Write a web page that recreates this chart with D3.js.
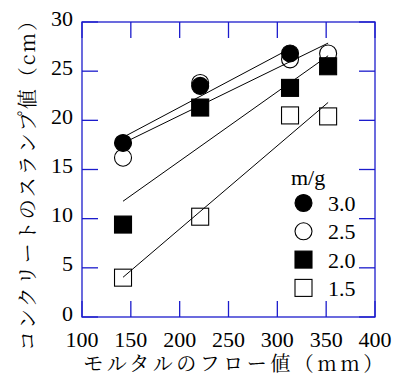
<!DOCTYPE html>
<html>
<head>
<meta charset="utf-8">
<script src="https://cdn.jsdelivr.net/npm/d3@7"></script>
<style>
body { margin: 0; background: #fff; }
svg { display: block; }
</style>
</head>
<body>
<svg id="chart"></svg>
<script>
// flow values of mortar (mm)
var flow = [142, 221, 313, 352];
// slump of concrete (cm), one list per m/g
var slump30 = [17.7, 23.5, 26.8];
var slump25 = [16.2, 23.8, 26.2, 26.8];
var slump20 = [9.4, 21.3, 23.3, 25.5];
var slump15 = [4.0, 10.2, 20.5, 20.4];
var xTicks = [100, 150, 200, 250, 300, 350, 400];
var yTicks = [0, 5, 10, 15, 20, 25, 30];
var legendLabels = ["3.0", "2.5", "2.0", "1.5"];

var width = 394, height = 376;
var plotLeft = 82, plotRight = 375, plotTop = 22, plotBottom = 317;
var axisColor = "#1c1ccc";
var numFont = "'Liberation Serif'";
var jpFont = "'Noto Serif CJK JP', 'Noto Sans CJK JP'";

var svg = d3.select("#chart").attr("width", width).attr("height", height);

var x = d3.scaleLinear().domain([100, 400]).range([plotLeft, plotRight]);
var y = d3.scaleLinear().domain([0, 30]).range([plotBottom, plotTop]);

// series, drawn in this order so overlaps match
var series = [
	{ name: "1.5", ys: slump15, shape: "square", fill: false },
	{ name: "2.5", ys: slump25, shape: "circle", fill: false },
	{ name: "2.0", ys: slump20, shape: "square", fill: true },
	{ name: "3.0", ys: slump30, shape: "circle", fill: true }
];

// least squares fit over each series
function fit(xs, ys) {
	var mx = d3.mean(xs), my = d3.mean(ys);
	var sxy = d3.sum(xs, function(v, i){ return (v - mx) * (ys[i] - my); });
	var sxx = d3.sum(xs, function(v){ return (v - mx) * (v - mx); });
	var b = sxy / sxx;
	return function(v){ return my + b * (v - mx); };
}

series.forEach(function(s){
	var xs = flow.slice(0, s.ys.length);
	var f = fit(xs, s.ys);
	var x0 = d3.min(xs), x1 = d3.max(xs);
	svg.append("line")
		.attr("x1", x(x0)).attr("y1", y(f(x0)))
		.attr("x2", x(x1)).attr("y2", y(f(x1)))
		.attr("stroke", "#000")
		.attr("stroke-width", 1);
});

function marker(g, shape, filled, cx, cy, size) {
	if (shape == "circle") {
		g.append("circle")
			.attr("cx", cx).attr("cy", cy).attr("r", size / 2 - 0.5)
			.attr("fill", filled ? "#000" : "none")
			.attr("stroke", "#000").attr("stroke-width", 1.1);
	} else {
		g.append("rect")
			.attr("x", cx - size / 2 + 0.5).attr("y", cy - size / 2 + 0.5)
			.attr("width", size - 1).attr("height", size - 1)
			.attr("fill", filled ? "#000" : "none")
			.attr("stroke", "#000").attr("stroke-width", 1.1);
	}
}

var pts = svg.append("g");
series.forEach(function(s){
	s.ys.forEach(function(v, i){
		marker(pts, s.shape, s.fill, x(flow[i]), y(v), 18);
	});
});

// frame and inward ticks
var frame = svg.append("g").attr("stroke", axisColor).attr("stroke-width", 1.3).attr("fill", "none");
frame.append("rect").attr("x", plotLeft).attr("y", plotTop).attr("width", plotRight - plotLeft).attr("height", plotBottom - plotTop);
var tlen = 16;
xTicks.forEach(function(t){
	frame.append("line").attr("x1", x(t)).attr("x2", x(t)).attr("y1", plotBottom).attr("y2", plotBottom - tlen);
	frame.append("line").attr("x1", x(t)).attr("x2", x(t)).attr("y1", plotTop).attr("y2", plotTop + tlen);
});
yTicks.forEach(function(t){
	frame.append("line").attr("x1", plotLeft).attr("x2", plotLeft + tlen).attr("y1", y(t)).attr("y2", y(t));
	frame.append("line").attr("x1", plotRight).attr("x2", plotRight - tlen).attr("y1", y(t)).attr("y2", y(t));
});

function numText(sel) {
	return sel.style("font-family", numFont).style("font-size", "22px").attr("fill", "#000");
}

// tick labels
svg.selectAll("text.xt").data(xTicks).enter().append("text")
	.attr("class", "xt")
	.call(numText)
	.attr("text-anchor", "middle")
	.attr("x", function(d){ return x(d); })
	.attr("y", 347)
	.text(function(d){ return d; });

svg.selectAll("text.yt").data(yTicks).enter().append("text")
	.attr("class", "yt")
	.call(numText)
	.attr("text-anchor", "end")
	.attr("x", 73)
	.attr("y", function(d){ return y(d) + 3.5; })
	.text(function(d){ return d; });

// axis titles
svg.append("text")
	.style("font-family", jpFont)
	.style("font-size", "20px")
	.style("letter-spacing", "3.5px")
	.attr("text-anchor", "middle")
	.attr("x", 235)
	.attr("y", 371)
	.text("モルタルのフロー値（mm）");

svg.append("text")
	.style("font-family", jpFont)
	.style("font-size", "20px")
	.style("letter-spacing", "2px")
	.attr("text-anchor", "middle")
	.attr("transform", "translate(35,180) rotate(-90)")
	.text("コンクリートのスランプ値（cm）");

// legend
var legend = svg.append("g");
legend.append("text")
	.call(numText)
	.attr("x", 291)
	.attr("y", 185)
	.text("m/g");
var legendOrder = [series[3], series[1], series[2], series[0]];
legendOrder.forEach(function(s, i){
	var cy = 203 + i * 28.3;
	marker(legend, s.shape, s.fill, 303.5, cy, 18);
	legend.append("text")
		.call(numText)
		.attr("x", 328)
		.attr("y", cy + 8)
		.text(legendLabels[i]);
});
</script>
</body>
</html>
